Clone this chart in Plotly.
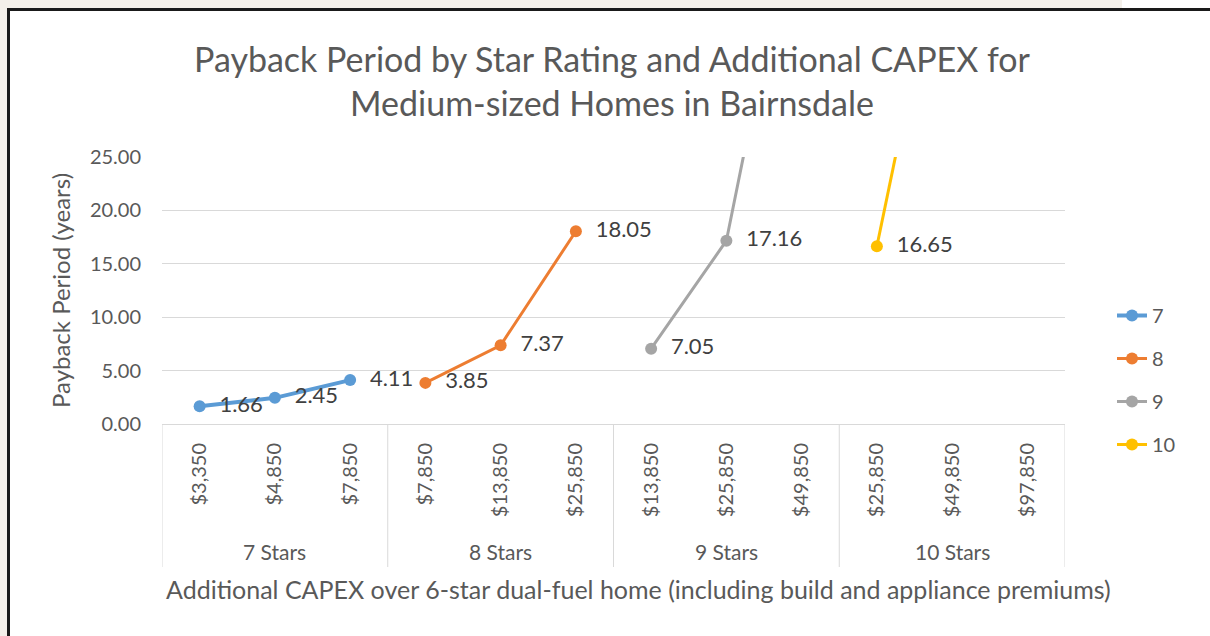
import plotly.graph_objects as go

# category axis: star rating group and additional CAPEX
star_groups = ["7 Stars", "8 Stars", "9 Stars", "10 Stars"]
capex_labels = ["$3,350", "$4,850", "$7,850",
                "$7,850", "$13,850", "$25,850",
                "$13,850", "$25,850", "$49,850",
                "$25,850", "$49,850", "$97,850"]
per_group = 3

# payback period (years); off-chart points estimated from line slope
series_names = ["7", "8", "9", "10"]
payback_7 = [1.66, 2.45, 4.11, None, None, None, None, None, None, None, None, None]
payback_8 = [None, None, None, 3.85, 7.37, 18.05, None, None, None, None, None, None]
payback_9 = [None, None, None, None, None, None, 7.05, 17.16, 52.0, None, None, None]
payback_10 = [None, None, None, None, None, None, None, None, None, 16.65, 50.6, None]

colors = ["#5B9BD5", "#ED7D31", "#A5A5A5", "#FFC000"]
widths = [4, 3, 3, 3]

W, H = 1210, 636
L, R, T, B = 162, 1065, 157, 424
y_max = 25
FONT = "Lato"
GREY = "#595959"


def px(x):
    return (x - L) / (R - L)


def py(y):
    return (B - y) / (B - T)


fig = go.Figure()
x_idx = list(range(len(capex_labels)))
for name, vals, c, w in zip(series_names, [payback_7, payback_8, payback_9, payback_10], colors, widths):
    labels = ["" if v is None or v > y_max else "\u00a0\u00a0%.2f" % v for v in vals]
    fig.add_trace(go.Scatter(
        x=x_idx, y=vals, name=name, mode="lines+markers+text",
        line=dict(color=c, width=w), marker=dict(color=c, size=12),
        text=labels, textposition="middle right",
        textfont=dict(family=FONT, size=22, color="#404040"),
        legendgroup=name,
    ))

shapes = []
# group separators below the axis
for g in range(len(star_groups) + 1):
    xb = g * per_group - 0.5
    shapes.append(dict(type="line", xref="x", yref="paper", x0=xb, x1=xb, y0=0, y1=py(567),
                       line=dict(color="#D9D9D9", width=1)))
# frame of the screenshot
shapes += [
    dict(type="rect", xref="paper", yref="paper", x0=px(0), x1=px(1122), y0=py(8), y1=py(0),
         fillcolor="#F4F0EA", line=dict(width=0), layer="below"),
    dict(type="rect", xref="paper", yref="paper", x0=px(0), x1=px(7), y0=py(636), y1=py(0),
         fillcolor="#F4F0EA", line=dict(width=0), layer="below"),
    dict(type="line", xref="paper", yref="paper", x0=px(7), x1=px(1210), y0=py(9.5), y1=py(9.5),
         line=dict(color="#1A1A1A", width=3)),
    dict(type="line", xref="paper", yref="paper", x0=px(8.5), x1=px(8.5), y0=py(636), y1=py(9),
         line=dict(color="#1A1A1A", width=3)),
]

annotations = []
for g, label in enumerate(star_groups):
    annotations.append(dict(x=g * per_group + (per_group - 1) / 2, y=py(551), xref="x", yref="paper",
                            yanchor="middle", text=label, showarrow=False,
                            font=dict(family=FONT, size=21, color=GREY)))
annotations.append(dict(x=px(638), y=py(589), xref="paper", yref="paper", yanchor="middle",
                        showarrow=False,
                        text="Additional CAPEX over 6-star dual-fuel home (including build and appliance premiums)",
                        font=dict(family=FONT, size=25, color=GREY)))

fig.update_layout(
    width=W, height=H,
    margin=dict(l=L, r=W - R, t=T, b=H - B),
    paper_bgcolor="white", plot_bgcolor="white",
    title=dict(text="Payback Period by Star Rating and Additional CAPEX for<br>Medium-sized Homes in Bairnsdale",
               x=px(612), xref="paper", xanchor="center", y=1 - 72 / H, yanchor="middle",
               font=dict(family=FONT, size=34, color=GREY)),
    xaxis=dict(range=[-0.5, len(capex_labels) - 0.5], tickmode="array", tickvals=x_idx,
               ticktext=capex_labels, tickangle=-90, showgrid=False, zeroline=False,
               showline=True, linecolor="#D9D9D9", linewidth=1, ticks="", ticklabelstandoff=10,
               tickfont=dict(family=FONT, size=20, color=GREY)),
    yaxis=dict(range=[0, y_max], dtick=5, tickformat=".2f", showgrid=True, gridcolor="#D9D9D9",
               zeroline=False, showline=False, ticks="", ticklabelstandoff=20,
               tickfont=dict(family=FONT, size=20, color=GREY),
               title=dict(text="Payback Period (years)", standoff=12,
                          font=dict(family=FONT, size=24, color=GREY))),
    legend=dict(x=px(1112), xanchor="left", y=py(296), yanchor="top",
                font=dict(family=FONT, size=20, color=GREY),
                tracegroupgap=14, bgcolor="rgba(0,0,0,0)"),
    shapes=shapes, annotations=annotations,
)

fig.write_html("out.html", config={"displayModeBar": False},
               post_script="document.body.style.margin='0';")
